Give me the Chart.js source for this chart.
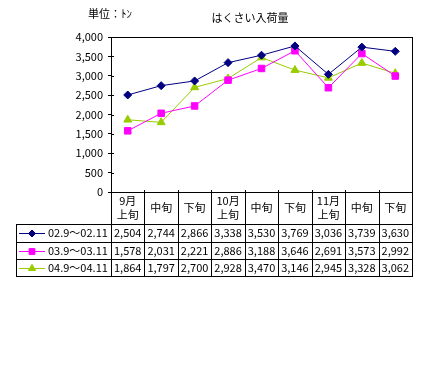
<!DOCTYPE html>
<html>
<head>
<meta charset="utf-8">
<script src="https://cdn.jsdelivr.net/npm/chart.js@4"></script>
<style>
html,body{margin:0;padding:0;background:#fff;}
#wrap{width:430px;height:375px;position:relative;}
</style>
</head>
<body>
<div id="wrap"><canvas id="c" width="430" height="375"></canvas></div>
<script>
const chartTitle = 'はくさい入荷量';
const unitLabel = '単位：ﾄﾝ';
const categories = [['9月','上旬'],['中旬'],['下旬'],['10月','上旬'],['中旬'],['下旬'],['11月','上旬'],['中旬'],['下旬']];
const seriesNames = ['02.9～02.11','03.9～03.11','04.9～04.11'];
const s2002 = [2504, 2744, 2866, 3338, 3530, 3769, 3036, 3739, 3630];
const s2003 = [1578, 2031, 2221, 2886, 3188, 3646, 2691, 3573, 2992];
const s2004 = [1864, 1797, 2700, 2928, 3470, 3146, 2945, 3328, 3062];
const yTicks = [0, 500, 1000, 1500, 2000, 2500, 3000, 3500, 4000];

const FONT = '"Noto Sans CJK JP", "Noto Sans", sans-serif';
const colors = ['#000080', '#FF00FF', '#99CC00'];
const pstyles = ['rectRot', 'rect', 'triangle'];
const pradius = [4, 4.6, 4.6];
const seriesData = [s2002, s2003, s2004];

const fmt = v => v.toLocaleString('en-US');

const tablePlugin = {
  id: 'tablePlugin',
  afterDraw(chart) {
    const ctx = chart.ctx;
    const a = chart.chartArea;
    const xs = chart.scales.x;
    const ys = chart.scales.y;
    const n = categories.length;
    const colW = (a.right - a.left) / n;
    const rowLines = [224, 241.5, 259, 275.5];
    const legendLeft = 16;
    ctx.save();
    // plot frame
    ctx.strokeStyle = '#000';
    ctx.lineWidth = 1;
    ctx.strokeRect(Math.round(a.left) + 0.5, Math.round(a.top) + 0.5, Math.round(a.right - a.left), Math.round(a.bottom - a.top));
    // inward y ticks
    ctx.beginPath();
    yTicks.forEach(v => {
      const y = Math.round(ys.getPixelForValue(v)) + 0.5;
      ctx.moveTo(a.left, y); ctx.lineTo(a.left + 3, y);
    });
    ctx.stroke();
    // vertical column lines
    const bottom = rowLines[rowLines.length - 1];
    ctx.beginPath();
    for (let i = 0; i <= n; i++) {
      const x = Math.round(xs.getPixelForValue(i) - colW / 2) + 0.5;
      ctx.moveTo(x, a.bottom - 2); ctx.lineTo(x, Math.round(bottom) + 0.5);
    }
    // legend column left border
    ctx.moveTo(legendLeft + 0.5, Math.round(rowLines[0]) + 0.5);
    ctx.lineTo(legendLeft + 0.5, Math.round(bottom) + 0.5);
    rowLines.forEach(y => {
      const yy = Math.round(y) + 0.5;
      ctx.moveTo(legendLeft, yy); ctx.lineTo(Math.round(a.right) + 1, yy);
    });
    ctx.stroke();

    // header labels
    ctx.fillStyle = '#000';
    ctx.textAlign = 'center';
    ctx.textBaseline = 'middle';
    ctx.font = '11px ' + FONT;
    const hTop = a.bottom, hBot = rowLines[0];
    const hMid = (hTop + hBot) / 2;
    categories.forEach((lab, i) => {
      const cx = xs.getPixelForValue(i);
      if (lab.length === 2) {
        ctx.fillText(lab[0], cx, hMid - 7.5);
        ctx.fillText(lab[1], cx, hMid + 7);
      } else {
        ctx.fillText(lab[0], cx, hMid);
      }
    });
    // data rows
    seriesData.forEach((arr, r) => {
      const cy = (rowLines[r] + rowLines[r + 1]) / 2 + 0.5;
      ctx.font = '11px ' + FONT;
      ctx.textAlign = 'center';
      arr.forEach((v, i) => {
        ctx.fillText(fmt(v), xs.getPixelForValue(i), cy);
      });
      // legend key
      ctx.strokeStyle = colors[r];
      ctx.lineWidth = 1;
      ctx.beginPath();
      ctx.moveTo(19, Math.round(cy) + 0.5); ctx.lineTo(45, Math.round(cy) + 0.5);
      ctx.stroke();
      ctx.fillStyle = colors[r];
      Chart.helpers.drawPoint(ctx, {pointStyle: pstyles[r], radius: pradius[r] - 0.5, borderWidth: 1}, 32, Math.round(cy) + 0.5);
      ctx.fill();
      ctx.fillStyle = '#000';
      ctx.textAlign = 'left';
      ctx.fillText(seriesNames[r], 48, cy);
    });
    // titles
    ctx.textAlign = 'center';
    ctx.font = '11px ' + FONT;
    ctx.fillText(chartTitle, 250, 18);
    ctx.textAlign = 'left';
    ctx.fillText(unitLabel, 88, 14);
    ctx.restore();
  }
};

new Chart(document.getElementById('c'), {
  type: 'line',
  data: {
    labels: categories,
    datasets: seriesData.map((d, i) => ({
      label: seriesNames[i],
      data: d,
      borderColor: colors[i],
      backgroundColor: colors[i],
      borderWidth: 1,
      pointStyle: pstyles[i],
      pointRadius: pradius[i],
      pointBorderWidth: 1,
      pointBackgroundColor: colors[i],
      pointBorderColor: colors[i],
      tension: 0,
      fill: false
    }))
  },
  options: {
    responsive: false,
    animation: false,
    devicePixelRatio: 1,
    layout: { padding: { left: 0, right: 18, top: 37, bottom: 183 } },
    plugins: { legend: { display: false }, title: { display: false }, tooltip: { enabled: false } },
    scales: {
      x: { type: 'category', display: false, offset: true },
      y: {
        min: 0, max: 4000,
        afterFit(s) { s.width = 111; },
        ticks: { stepSize: 500, color: '#000', padding: 5, font: { size: 11, family: FONT }, callback: v => fmt(v) },
        grid: { display: true, drawOnChartArea: false, drawTicks: true, tickLength: 3, color: '#000' },
        border: { display: true, color: '#000' }
      }
    }
  },
  plugins: [tablePlugin]
});
</script>
</body>
</html>
